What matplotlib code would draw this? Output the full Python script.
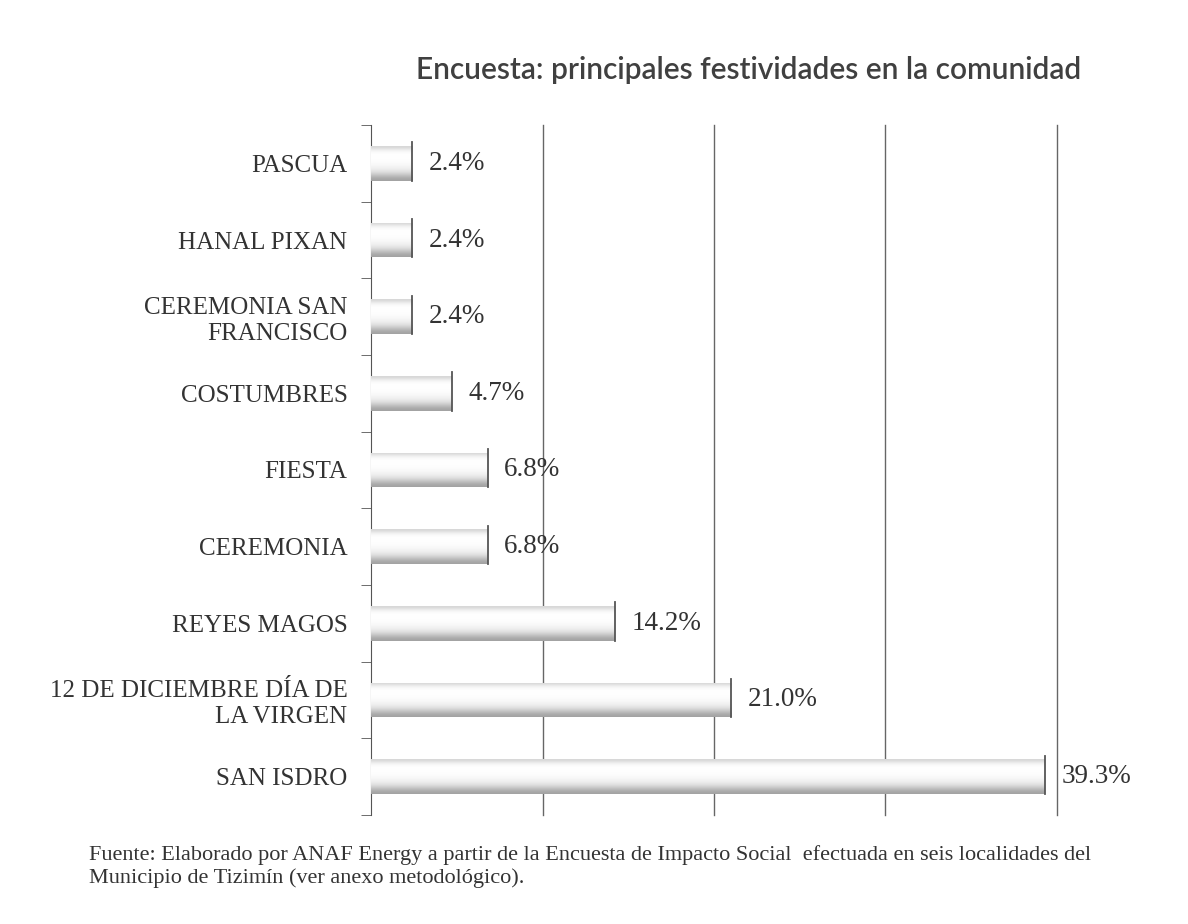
import numpy as np
import matplotlib.pyplot as plt

# datos de la encuesta (de arriba hacia abajo)
festividades = ["PASCUA", "HANAL PIXAN", "CEREMONIA SAN\nFRANCISCO", "COSTUMBRES",
                "FIESTA", "CEREMONIA", "REYES MAGOS",
                "12 DE DICIEMBRE DÍA DE\nLA VIRGEN", "SAN ISDRO"]
porcentajes = [2.4, 2.4, 2.4, 4.7, 6.8, 6.8, 14.2, 21.0, 39.3]
etiquetas = ["2.4%", "2.4%", "2.4%", "4.7%", "6.8%", "6.8%", "14.2%", "21.0%", "39.3%"]

fig = plt.figure(figsize=(11.88, 9.24), dpi=100)
ax = fig.add_axes([0.3123, 0.118, 0.8897 - 0.3123, 0.8647 - 0.118])

y = np.arange(len(festividades))
barras = ax.barh(y, porcentajes, height=0.45, color="none", edgecolor="none", zorder=3)

# degradado claro con sombra abajo, como las barras con relieve del original
grad = np.array([0.84, 0.94, 0.99, 1.0, 1.0, 0.99, 0.98, 0.96, 0.93, 0.88,
                 0.80, 0.70, 0.64]).reshape(-1, 1)
for b in barras:
    x0, y0 = b.get_x(), b.get_y()
    w, h = b.get_width(), b.get_height()
    im = ax.imshow(grad, cmap="gray", vmin=0, vmax=1, aspect="auto",
                   extent=[x0, x0 + w, y0 + h, y0], zorder=3, interpolation="bicubic")
    im.set_clip_path(b)
    ax.plot([x0 + w, x0 + w], [y0 - 0.05, y0 + h], color="#555555", lw=1.3, zorder=4)

for i, (v, t) in enumerate(zip(porcentajes, etiquetas)):
    ax.annotate(t, (v, i), xytext=(12, 0), textcoords="offset points",
                va="center", ha="left", fontsize=19.5, family="Liberation Serif",
                color="#333333")

ax.set_xlim(0, 40)
ax.set_ylim(len(festividades) - 0.5, -0.5)
ax.set_yticks(y)
ax.set_yticklabels(festividades, fontsize=18, family="Liberation Serif",
                   color="#333333", linespacing=1.2, ha="right")
ax.set_yticks(np.arange(-0.5, len(festividades)), minor=True)
ax.tick_params(axis="y", which="major", length=0, pad=17)
ax.tick_params(axis="y", which="minor", length=7, color="#555555", direction="out")
ax.set_xticks([10, 20, 30, 40])
ax.tick_params(axis="x", length=0, labelbottom=False)
ax.grid(axis="x", color="#666666", lw=1, zorder=0)
for gl in ax.xaxis.get_gridlines():
    gl.set_clip_on(False)
for s in ["top", "right", "bottom"]:
    ax.spines[s].set_visible(False)
ax.spines["left"].set_color("#555555")

fig.text(0.6305, 0.924, "Encuesta: principales festividades en la comunidad",
         ha="center", va="center", fontsize=21.5, family="Lato", weight="semibold",
         color="#404040")
fig.text(0.075, 1 - 845 / 924,
         "Fuente: Elaborado por ANAF Energy a partir de la Encuesta de Impacto Social  efectuada en seis localidades del\n"
         "Municipio de Tizimín (ver anexo metodológico).",
         ha="left", va="top", fontsize=16, family="Liberation Serif",
         color="#333333", linespacing=1.22)

fig.savefig("out.png", dpi=100)
